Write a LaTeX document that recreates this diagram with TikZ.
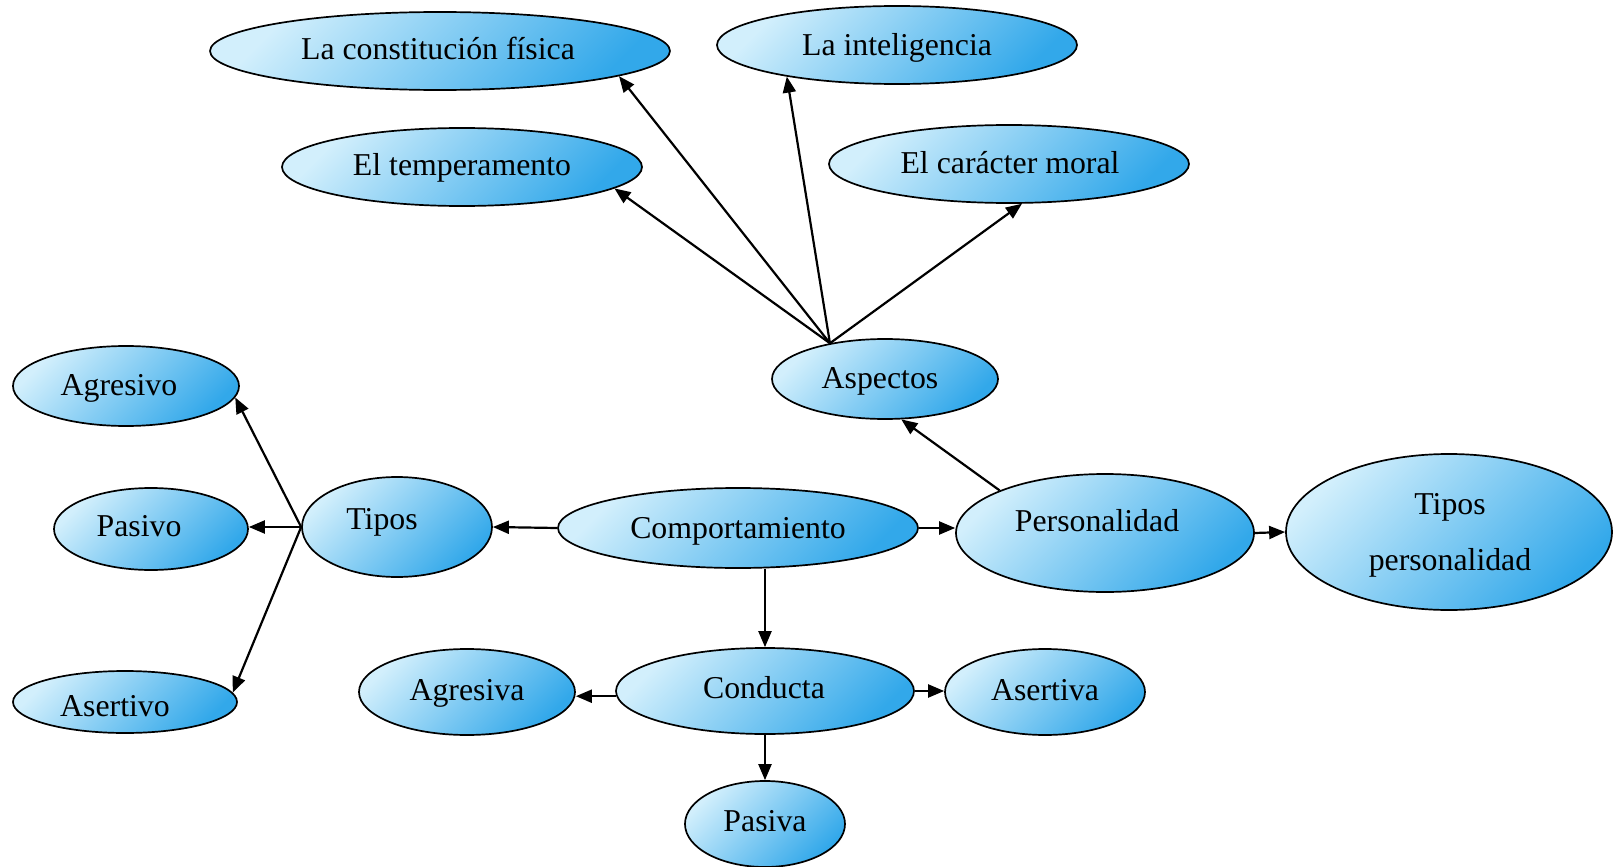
\documentclass[tikz,border=0pt]{standalone}
\usepackage{fontspec}
\setmainfont{Liberation Serif}
\usetikzlibrary{shapes.geometric,arrows.meta}
\definecolor{cl}{RGB}{210,239,252}
\definecolor{cd}{RGB}{50,168,234}
\tikzset{
  bub/.style 2 args={ellipse, draw=black, line width=0.85pt, inner sep=0pt,
    minimum width=#1pt, minimum height=#2pt,
    top color=cl, bottom color=cd, shading angle=45},
  lbl/.style={anchor=base, inner sep=0pt, font=\fontsize{15.9}{28}\selectfont, align=center},
  arr/.style={line width=1.1pt, -{Triangle[length=8pt,width=6.5pt]}}
}
\begin{document}
\begin{tikzpicture}[x=0.5pt,y=-0.5pt]
\useasboundingbox (0,0) rectangle (1614,867);
% ellipses
\node[bub={230}{39}] (lcf) at (440,51) {};
\node[bub={180}{39}] (int) at (897,45) {};
\node[bub={180}{39}] (tem) at (462,167) {};
\node[bub={180}{39}] (car) at (1009,164) {};
\node[bub={113}{40}] (asp) at (885,379) {};
\node[bub={113}{40}] (agr) at (126,386) {};
\node[bub={97}{41}] (pas) at (151,529) {};
\node[bub={95}{50}] (tip) at (397,527) {};
\node[bub={180}{40}] (comp) at (738,528) {};
\node[bub={149}{59}] (per) at (1105,533) {};
\node[bub={163}{78}] (tper) at (1449,532) {};
\node[bub={112}{31}] (ase) at (125,702) {};
\node[bub={108}{43}] (aga) at (467,692) {};
\node[bub={149}{43}] (con) at (765,691) {};
\node[bub={100}{43}] (asa) at (1045,692) {};
\node[bub={80}{43}] (psa) at (765,824) {};
% labels
\node[lbl] (l-lcf) at (438,59) {La constitución física};
\node[lbl] (l-int) at (897,55) {La inteligencia};
\node[lbl] (l-tem) at (462,175) {El temperamento};
\node[lbl] (l-car) at (1010,173) {El carácter moral};
\node[lbl] (l-asp) at (880,388) {Aspectos};
\node[lbl] (l-agr) at (119,395) {Agresivo};
\node[lbl] (l-pas) at (139,536) {Pasivo};
\node[lbl] (l-tip) at (382,529) {Tipos};
\node[lbl] (l-comp) at (738,538) {Comportamiento};
\node[lbl] (l-per) at (1097,531) {Personalidad};
\node[lbl] (l-tper) at (1450,570) {Tipos\\personalidad};
\node[lbl] (l-ase) at (115,716) {Asertivo};
\node[lbl] (l-aga) at (467,700) {Agresiva};
\node[lbl] (l-con) at (764,698) {Conducta};
\node[lbl] (l-asa) at (1045,700) {Asertiva};
\node[lbl] (l-psa) at (765,831) {Pasiva};
% connectors
\draw[arr] (asp.147) -- (lcf.-8);
\draw[arr] (asp.147) -- (tem.-8);
\draw[arr] (asp.147) -- (int.196);
\draw[arr] (asp.147) -- (car.-72);
\draw[arr] (per.158) -- (asp.-68);
\draw[arr] (comp.west) -- (tip.east);
\draw[arr] (comp.east) -- (comp.east -| per.west);
\draw[arr] (con.north |- comp.south) -- (con.north);
\draw[arr] (tip.west) -- (agr.-6);
\draw[arr] (tip.west) -- (tip.west -| pas.east);
\draw[arr] (tip.west) -- (ase.5);
\draw[arr] (per.east) -- (tper.west);
\draw[arr] (con.182) -- (con.182 -| aga.east);
\draw[arr] (con.east) -- (con.east -| asa.west);
\draw[arr] (con.south) -- (psa.north);
\end{tikzpicture}
\end{document}
